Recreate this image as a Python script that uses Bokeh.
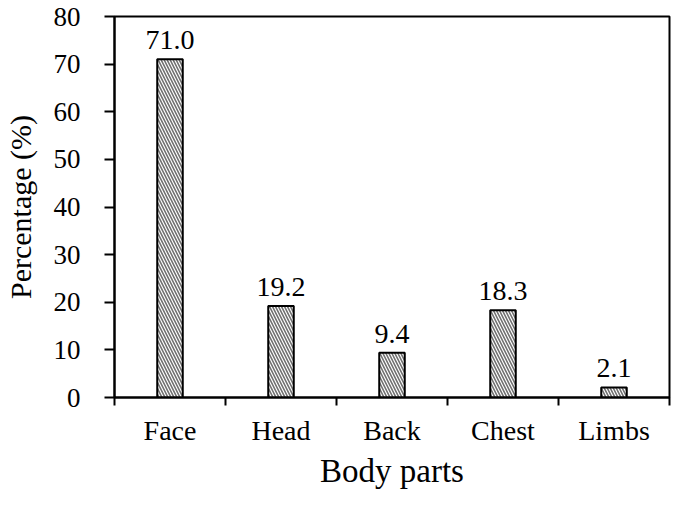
from bokeh.plotting import figure
from bokeh.models import ColumnDataSource, FixedTicker, Range1d
from bokeh.core.properties import value
from bokeh.embed import file_html
from bokeh.resources import INLINE

categories = ["Face", "Head", "Back", "Chest", "Limbs"]
percentages = [71.0, 19.2, 9.4, 18.3, 2.1]
y_ticks = [0, 10, 20, 30, 40, 50, 60, 70, 80]

positions = [i + 0.5 for i in range(len(categories))]
labels = [f"{v:.1f}" for v in percentages]
source = ColumnDataSource(data=dict(x=positions, top=percentages, label=labels))

FONT = "Liberation Serif"

p = figure(width=672, height=491, output_backend="svg", toolbar_location=None,
           x_range=Range1d(0, len(categories)), y_range=Range1d(0, 80),
           min_border_left=112, min_border_right=3, min_border_top=16, min_border_bottom=0)

p.vbar(x="x", top="top", width=0.23, source=source,
       fill_color="white", line_color="black", line_width=2,
       hatch_pattern="left_diagonal_line", hatch_color="#707070",
       hatch_scale=6, hatch_weight=1.6)

p.text(x="x", y="top", text="label", source=source, y_offset=-10,
       text_align="center", text_baseline="bottom",
       text_font=value(FONT), text_font_size="28px", text_color="black")

p.xgrid.visible = False
p.ygrid.visible = False
p.outline_line_color = "black"
p.outline_line_width = 2
p.outline_line_alpha = 1

# x axis
xa = p.xaxis[0]
xa.ticker = FixedTicker(ticks=positions, minor_ticks=list(range(len(categories) + 1)))
xa.major_label_overrides = {pos: c for pos, c in zip(positions, categories)}
xa.major_tick_out = 0
xa.major_tick_in = 0
xa.minor_tick_out = 8
xa.minor_tick_in = 0
xa.minor_tick_line_color = "black"
xa.minor_tick_line_width = 2
xa.axis_line_width = 2
xa.axis_line_color = "black"
xa.major_label_text_font = FONT
xa.major_label_text_font_size = "28px"
xa.major_label_text_color = "black"
xa.major_label_standoff = 9
xa.axis_label = "Body parts"
xa.axis_label_text_font = FONT
xa.axis_label_text_font_size = "33px"
xa.axis_label_text_font_style = "normal"
xa.axis_label_text_color = "black"
xa.axis_label_standoff = 4

# y axis
ya = p.yaxis[0]
ya.ticker = FixedTicker(ticks=y_ticks)
ya.major_tick_out = 10
ya.major_tick_in = 0
ya.minor_tick_out = 0
ya.minor_tick_in = 0
ya.major_tick_line_width = 2
ya.axis_line_width = 2
ya.axis_line_color = "black"
ya.major_label_text_font = FONT
ya.major_label_text_font_size = "27px"
ya.major_label_text_color = "black"
ya.major_label_standoff = 24
ya.axis_label = "Percentage (%)"
ya.axis_label_text_font = FONT
ya.axis_label_text_font_size = "30px"
ya.axis_label_text_font_style = "normal"
ya.axis_label_text_color = "black"
ya.axis_label_standoff = 14

open("out.html", "w").write(file_html(p, INLINE))
